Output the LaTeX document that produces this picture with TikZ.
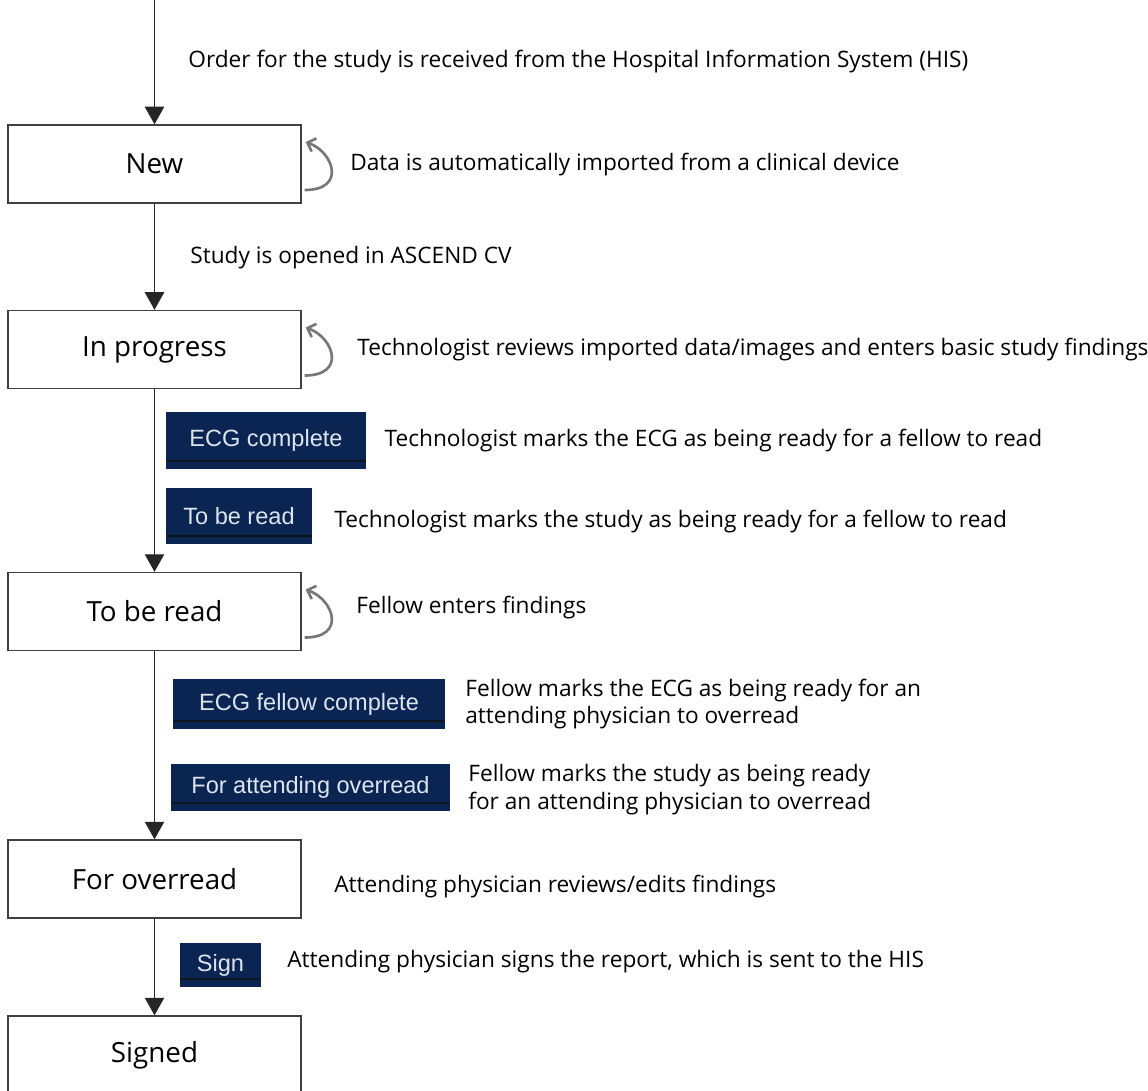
\documentclass[tikz,border=0pt]{standalone}
\usepackage{fontspec}
\setmainfont{Open Sans}
\newfontfamily\btnfont{Liberation Sans}
\usetikzlibrary{arrows.meta,positioning}
\definecolor{btnblue}{HTML}{0B2552}
\definecolor{btnline}{HTML}{10161F}
\definecolor{btntext}{HTML}{DCE4EE}
\definecolor{loopgray}{HTML}{777777}

\tikzset{
  state/.style={draw=black!75, line width=0.8pt, minimum width=5.86cm, minimum height=1.56cm,
    font=\fontsize{15.8}{18}\selectfont},
  btn/.style={fill=btnblue, text=btntext, inner sep=0pt, font=\btnfont\fontsize{13.4}{16}\selectfont,
    path picture={\draw[btnline, line width=0.9pt]
      ([yshift=4.5pt]path picture bounding box.south west) -- ([yshift=4.5pt]path picture bounding box.south east);}},
  desc/.style={anchor=west, align=left, inner sep=0pt, font=\fontsize{12.9}{15.9}\selectfont},
  flow/.style={draw=black!85, line width=0.8pt, -{Triangle[length=10pt,width=11pt]}},
  selfloop/.style={draw=loopgray, line width=1.5pt, -{Straight Barb[length=4pt,width=8pt]}},
}

\begin{document}
\begin{tikzpicture}[x=0.02cm, y=-0.02cm]
    \useasboundingbox (0,0) rectangle (1148,1090);

    % states
    \coordinate (start) at (154.5,0);
    \node[state] (new)      at (154.5,164)   {New};
    \node[state] (inprog)   at (154.5,349.5) {In progress};
    \node[state] (toread)   at (154.5,611.5) {To be read};
    \node[state] (overread) at (154.5,879)   {For overread};
    \node[state] (signed)   at (154.5,1055)  {Signed};

    % buttons
    \node[btn, minimum width=4cm, minimum height=1.14cm]    (ecgdone)   at (266,440.5) {ECG complete};
    \node[btn, minimum width=2.92cm, minimum height=1.12cm] (readbtn)   at (239,516)   {To be read};
    \node[btn, minimum width=5.44cm, minimum height=1cm]    (fellowbtn) at (309,704)   {ECG fellow complete};
    \node[btn, minimum width=5.58cm, minimum height=0.94cm] (attendbtn) at (310.5,787.5) {For attending overread};
    \node[btn, minimum width=1.62cm, minimum height=0.88cm] (signbtn)   at (220.5,965) {Sign};

    % descriptions
    \node[desc] (order)    at (188,62)  {Order for the study is received from the Hospital Information System (HIS)};
    \node[desc] (import)   at (350,165) {Data is automatically imported from a clinical device};
    \node[desc] (opened)   at (190,258) {Study is opened in ASCEND CV};
    \node[desc] (review)   at (357,350) {Technologist reviews imported data/images and enters basic study findings};
    \node[desc, right=18*0.02cm of ecgdone] (ecgtxt) {Technologist marks the ECG as being ready for a fellow to read};
    \node[desc] (readtxt)  at (334,522) {Technologist marks the study as being ready for a fellow to read};
    \node[desc] (findings) at (356,608) {Fellow enters findings};
    \node[desc] (fellowtxt) at (465,704) {Fellow marks the ECG as being ready for an\\attending physician to overread};
    \node[desc] (attendtxt) at (468,790) {Fellow marks the study as being ready\\for an attending physician to overread};
    \node[desc] (edits)    at (334,887) {Attending physician reviews/edits findings};
    \node[desc] (signtxt)  at (287,962) {Attending physician signs the report, which is sent to the HIS};

    % flow
    \draw[flow] (start) -- (new);
    \draw[flow] (new) -- (inprog);
    \draw[flow] (inprog) -- (toread);
    \draw[flow] (toread) -- (overread);
    \draw[flow] (overread) -- (signed);

    % self loops
    \foreach \s in {new, inprog, toread}
      \draw[selfloop] ([shift={(3,26)}]\s.east) .. controls +(42,0) and +(28,10) .. ([shift={(4,-22)}]\s.east);
\end{tikzpicture}
\end{document}
